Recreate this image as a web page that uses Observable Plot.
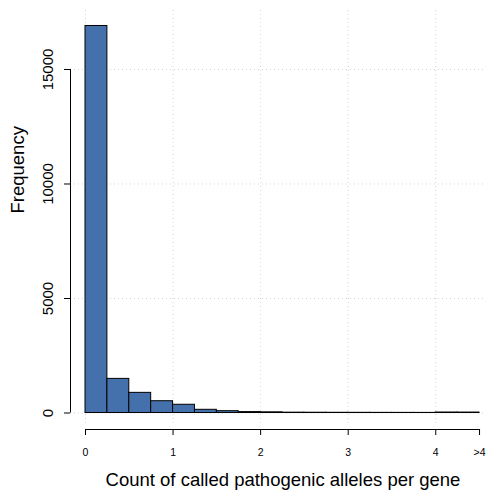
<!DOCTYPE html>
<html>
<head>
<meta charset="utf-8">
<script src="https://cdn.jsdelivr.net/npm/d3@7"></script>
<script src="https://cdn.jsdelivr.net/npm/@observablehq/plot@0.6"></script>
<style>
  html, body { margin: 0; padding: 0; background: #fff; }
  svg { display: block; }
</style>
</head>
<body>
<div id="chart"></div>
<script>
// Histogram bins (count of called pathogenic alleles per gene), width 0.25
const binLo = [0, 0.25, 0.5, 0.75, 1, 1.25, 1.5, 1.75, 2, 2.25, 2.5, 2.75, 3, 3.25, 3.5, 3.75, 4, 4.25];
const binHi = [0.25, 0.5, 0.75, 1, 1.25, 1.5, 1.75, 2, 2.25, 2.5, 2.75, 3, 3.25, 3.5, 3.75, 4, 4.25, 4.5];
const counts = [16900, 1490, 880, 515, 360, 140, 80, 40, 30, 15, 12, 10, 8, 7, 6, 5, 22, 20];

const xTicks = [0, 1, 2, 3, 4, 4.5];
const xTickLabels = ["0", "1", "2", "3", "4", ">4"];
const xGrid = [0, 1, 2, 3, 4];
const yTicks = [0, 5000, 10000, 15000];
const xLabel = "Count of called pathogenic alleles per gene";
const yLabel = "Frequency";

const bins = binLo.map((lo, i) => ({lo, hi: binHi[i], count: counts[i]}));

// scale domains chosen to mimic R's plot region
const xDomain = [-0.1713, 4.568];
const yDomain = [-458, 17576];
const font = "'Liberation Sans', Arial, Helvetica, sans-serif";

const chart = Plot.plot({
  width: 489,
  height: 492,
  marginLeft: 70,
  marginRight: 4,
  marginTop: 10,
  marginBottom: 69,
  style: {fontFamily: font, background: "#fff", color: "#000"},
  x: {domain: xDomain, axis: null},
  y: {domain: yDomain, axis: null},
  marks: [
    Plot.ruleX(xGrid, {stroke: "#d3d3d3", strokeDasharray: "1,3", strokeWidth: 1}),
    Plot.ruleY(yTicks, {stroke: "#d3d3d3", strokeDasharray: "1,3", strokeWidth: 1}),
    Plot.rectY(bins, {x1: "lo", x2: "hi", y: "count", fill: "#4471AC", stroke: "#000", strokeWidth: 1}),
    // y axis
    Plot.ruleX([xDomain[0]], {y1: yTicks[0], y2: yTicks[yTicks.length - 1], stroke: "#000"}),
    Plot.axisY(yTicks, {anchor: "left", tickSize: 6, text: null, label: null, stroke: "#000"}),
    Plot.text(yTicks, {x: xDomain[0], y: d => d, text: d => String(d), rotate: -90, dx: -18,
      textAnchor: "middle", lineAnchor: "bottom", fontSize: 15, fill: "#000"}),
    // x axis
    Plot.ruleY([yDomain[0]], {x1: xTicks[0], x2: xTicks[xTicks.length - 1], dy: 6, stroke: "#000"}),
    Plot.axisX(xTicks, {anchor: "bottom", tickSize: 6, dy: 6, tickPadding: 13, label: null,
      tickFormat: (d, i) => xTickLabels[xTicks.indexOf(d)], fontSize: 10.5, stroke: "#000", fill: "#000"}),
    // titles
    Plot.text([xLabel], {frameAnchor: "bottom", dx: 5, dy: 62, lineAnchor: "bottom", fontSize: 18.5, fill: "#000"}),
    Plot.text([yLabel], {frameAnchor: "left", rotate: -90, dx: -46.5, dy: -3.5, lineAnchor: "bottom", fontSize: 18.5, fill: "#000"})
  ]
});
document.getElementById("chart").appendChild(chart);
</script>
</body>
</html>
